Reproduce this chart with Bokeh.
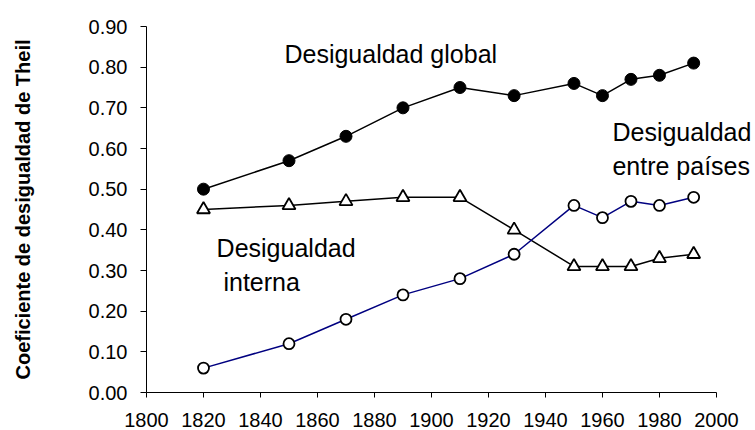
from bokeh.plotting import figure
from bokeh.models import FixedTicker, PrintfTickFormatter, Range1d, Label
from bokeh.embed import file_html
from bokeh.resources import INLINE

years = [1820, 1850, 1870, 1890, 1910, 1929, 1950, 1960, 1970, 1980, 1992]
global_ineq = [0.50, 0.57, 0.63, 0.70, 0.75, 0.73, 0.76, 0.73, 0.77, 0.78, 0.81]
internal_ineq = [0.45, 0.46, 0.47, 0.48, 0.48, 0.40, 0.31, 0.31, 0.31, 0.33, 0.34]
between_ineq = [0.06, 0.12, 0.18, 0.24, 0.28, 0.34, 0.46, 0.43, 0.47, 0.46, 0.48]
x_ticks = [1800, 1820, 1840, 1860, 1880, 1900, 1920, 1940, 1960, 1980, 2000]
y_ticks = [0.0, 0.1, 0.2, 0.3, 0.4, 0.5, 0.6, 0.7, 0.8, 0.9]

FONT = "Liberation Sans"

p = figure(width=755, height=430, output_backend="svg", toolbar_location=None,
           x_range=Range1d(1800, 2013.7), y_range=Range1d(0, 0.9),
           min_border_left=146, min_border_right=0, min_border_top=26, min_border_bottom=38)
p.outline_line_color = None
p.xgrid.visible = False
p.ygrid.visible = False
p.background_fill_color = "white"
p.border_fill_color = "white"

# lines
p.line(years, internal_ineq, line_color="black", line_width=1.5)
p.line(years, between_ineq, line_color="#000080", line_width=1.5)
p.line(years, global_ineq, line_color="black", line_width=1.5)

# markers
p.scatter(years, global_ineq, marker="circle", size=12, fill_color="black", line_color="black")
p.scatter(years, internal_ineq, marker="triangle", size=13, fill_color="white", line_color="black", line_width=1.8)
p.scatter(years, between_ineq, marker="circle", size=11, fill_color="white", line_color="black", line_width=1.8)

# axes
xa = p.xaxis[0]
xa.bounds = (1800, 2000)
xa.ticker = FixedTicker(ticks=x_ticks)
xa.minor_tick_line_color = None
xa.major_tick_out = 5
xa.major_tick_in = 0
xa.major_label_standoff = 15
xa.major_label_text_font = FONT
xa.major_label_text_font_size = "20px"
xa.major_label_text_color = "black"
xa.axis_line_color = "black"
xa.major_tick_line_color = "black"

ya = p.yaxis[0]
ya.ticker = FixedTicker(ticks=y_ticks)
ya.formatter = PrintfTickFormatter(format="%.2f")
ya.minor_tick_line_color = None
ya.major_tick_out = 6
ya.major_tick_in = 0
ya.major_label_standoff = 13
ya.major_label_text_font = FONT
ya.major_label_text_font_size = "20px"
ya.major_label_text_color = "black"
ya.axis_line_color = "black"
ya.major_tick_line_color = "black"
ya.axis_label = "Coeficiente de desigualdad de Theil"
ya.axis_label_text_font = FONT
ya.axis_label_text_font_size = "20px"
ya.axis_label_text_font_style = "bold"
ya.axis_label_text_color = "black"
ya.axis_label_standoff = 52

def add_text(x, y, t):
    p.add_layout(Label(x=x, y=y, text=t, text_font=FONT, text_font_size="25px",
                       text_color="black", text_baseline="alphabetic", text_align="left"))

add_text(1848.4, 0.833, "Desigualdad global")
add_text(1824.6, 0.3545, "Desigualdad")
add_text(1827.0, 0.2727, "interna")
add_text(1963.5, 0.6396, "Desigualdad")
add_text(1963.5, 0.5577, "entre países")

open("out.html", "w").write(file_html(p, INLINE))
